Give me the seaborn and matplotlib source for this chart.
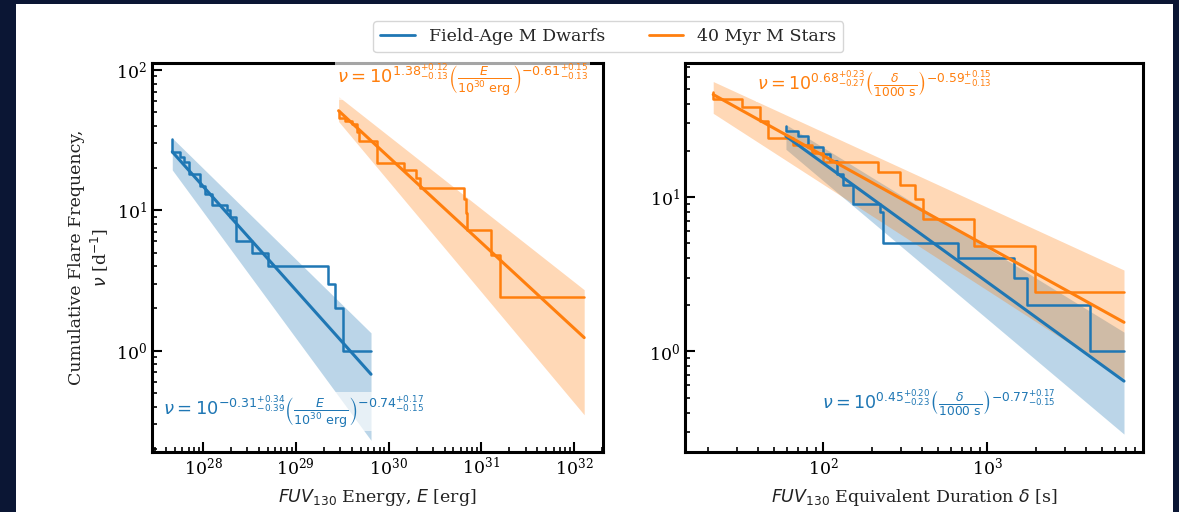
import seaborn as sns
import matplotlib.pyplot as plt
from matplotlib.lines import Line2D

# ---- datos ----
# panel izquierdo: energia FUV130 [erg]
e_field = [4.66e27, 4.66e27, 5.65e27, 6.28e27, 7.11e27, 9.29e27, 1.05e28, 1.24e28,
           1.83e28, 1.96e28, 2.27e28, 3.35e28, 5.07e28, 2.22e29, 2.67e29, 3.19e29, 6.46e29]
nu_e_field = [32, 26, 24, 22, 18, 15, 13, 11, 10, 9, 6, 5, 4, 3, 2, 1, 1]

e_young = [2.89e29, 2.89e29, 3.41e29, 4.03e29, 4.57e29, 4.79e29, 7.52e29, 1.46e30,
           1.95e30, 2.20e30, 6.47e30, 6.76e30, 7.03e30, 1.26e31, 1.57e31, 1.28e32]
nu_e_young = [50.6, 45.8, 43.4, 41.0, 36.2, 31.3, 21.7, 19.3,
              16.9, 14.5, 12.05, 9.64, 7.23, 4.82, 2.41, 2.41]

fit_e_field_x = [4.66e27, 6.46e29]
fit_e_field_y = [26.1, 0.68]
band_e_field_hi = [32.7, 1.34]
band_e_field_lo = [19.4, 0.23]

fit_e_young_x = [2.89e29, 1.28e32]
fit_e_young_y = [51.2, 1.24]
band_e_young_hi = [64.6, 2.72]
band_e_young_lo = [42.9, 0.35]

# panel derecho: duracion equivalente [s]
d_field = [59.4, 59.4, 70.6, 81.3, 100.5, 109.6, 121.1, 131.8, 153.1, 222.8,
           233.3, 668.3, 1452, 1746, 4246, 6839]
nu_d_field = [29, 27, 25, 21, 19, 17, 14, 12, 9, 8, 5, 4, 3, 2, 1, 1]

d_young = [21.4, 21.4, 31.9, 41.3, 46.3, 65.9, 85.3, 100.5, 217.3, 295.1,
           363.9, 409.3, 833.7, 1963, 6839]
nu_d_young = [48.2, 43.4, 38.6, 31.3, 24.1, 21.7, 19.3, 16.9, 14.5, 12.05,
              9.64, 7.23, 4.82, 2.41, 2.41]

fit_d_field_x = [59.4, 6839]
fit_d_field_y = [24.8, 0.64]
band_d_field_hi = [29.5, 1.33]
band_d_field_lo = [20.4, 0.29]

fit_d_young_x = [21.4, 6839]
fit_d_young_y = [46.2, 1.54]
band_d_young_hi = [56.1, 3.36]
band_d_young_lo = [34.9, 0.665]

etiquetas = ['Field-Age M Dwarfs', '40 Myr M Stars']
azul = '#1f77b4'
naranja = '#ff7f0e'

# ---- estilo ----
sns.set_theme(style='white')
plt.rcParams['font.family'] = ['DejaVu Serif']
plt.rcParams['mathtext.fontset'] = 'dejavusans'

fig = plt.figure(figsize=(11.79, 5.12), dpi=100)
fig.patch.set_facecolor('#0b1634')

# fondo blanco del panel
fondo = fig.add_axes([16 / 1179, 0, 1157 / 1179, 508 / 512], zorder=-10)
fondo.set_facecolor('white')
fondo.set_xticks([])
fondo.set_yticks([])
for s in fondo.spines.values():
    s.set_visible(False)

ax1 = fig.add_axes([152 / 1179, 60 / 512, 451 / 1179, 389 / 512])
ax2 = fig.add_axes([685 / 1179, 60 / 512, 458 / 1179, 389 / 512])


def panel(ax, pasos, ajustes, bandas):
    ax.set_xscale('log')
    ax.set_yscale('log')
    for xb, hi, lo, c in bandas:
        ax.fill_between(xb, lo, hi, color=c, alpha=0.3, linewidth=0)
    for x, y, c in pasos:
        sns.lineplot(x=x, y=y, drawstyle='steps-post', estimator=None, sort=False,
                     color=c, linewidth=1.8, ax=ax)
    for x, y, c in ajustes:
        sns.lineplot(x=x, y=y, estimator=None, sort=False, color=c, linewidth=2.2, ax=ax)
    ax.tick_params(which='both', direction='in', left=True, bottom=True,
                   top=False, right=False, labelsize=12.5, colors='black')
    ax.tick_params(which='major', length=7, width=1.5)
    ax.tick_params(which='minor', length=3.5, width=1.2)
    for s in ax.spines.values():
        s.set_linewidth(2.2)
        s.set_color('black')


panel(ax1,
      [(e_field, nu_e_field, azul), (e_young, nu_e_young, naranja)],
      [(fit_e_field_x, fit_e_field_y, azul), (fit_e_young_x, fit_e_young_y, naranja)],
      [(fit_e_field_x, band_e_field_hi, band_e_field_lo, azul),
       (fit_e_young_x, band_e_young_hi, band_e_young_lo, naranja)])
panel(ax2,
      [(d_field, nu_d_field, azul), (d_young, nu_d_young, naranja)],
      [(fit_d_field_x, fit_d_field_y, azul), (fit_d_young_x, fit_d_young_y, naranja)],
      [(fit_d_field_x, band_d_field_hi, band_d_field_lo, azul),
       (fit_d_young_x, band_d_young_hi, band_d_young_lo, naranja)])

ax1.set_xlim(10 ** 27.45, 10 ** 32.31)
ax1.set_ylim(0.19, 112)
ax2.set_xlim(14.4, 8930)
ax2.set_ylim(0.222, 74)

ax1.set_xlabel(r'$FUV_{130}$ Energy, $E$ [erg]', fontsize=12.5, color='#222222', labelpad=6)
ax2.set_xlabel(r'$FUV_{130}$ Equivalent Duration $\delta$ [s]', fontsize=12.5,
               color='#222222', labelpad=6)
ax1.set_ylabel('Cumulative Flare Frequency,\n' + r'$\nu$ [d$^{-1}$]', fontsize=12.5,
               color='#222222')

caja = dict(facecolor='white', alpha=0.65, edgecolor='none', pad=1)
ax1.text(0.41, 0.956, r'$\nu = 10^{1.38^{+0.12}_{-0.13}}\left(\frac{E}{10^{30}\ \mathrm{erg}}\right)^{-0.61^{+0.15}_{-0.13}}$',
         transform=ax1.transAxes, color=naranja, fontsize=13, ha='left', va='center', bbox=caja)
ax1.text(0.024, 0.103, r'$\nu = 10^{-0.31^{+0.34}_{-0.39}}\left(\frac{E}{10^{30}\ \mathrm{erg}}\right)^{-0.74^{+0.17}_{-0.15}}$',
         transform=ax1.transAxes, color=azul, fontsize=13, ha='left', va='center', bbox=caja)
ax2.text(0.157, 0.943, r'$\nu = 10^{0.68^{+0.23}_{-0.27}}\left(\frac{\delta}{1000\ \mathrm{s}}\right)^{-0.59^{+0.15}_{-0.13}}$',
         transform=ax2.transAxes, color=naranja, fontsize=12.6, ha='left', va='center', bbox=caja)
ax2.text(0.30, 0.124, r'$\nu = 10^{0.45^{+0.20}_{-0.23}}\left(\frac{\delta}{1000\ \mathrm{s}}\right)^{-0.77^{+0.17}_{-0.15}}$',
         transform=ax2.transAxes, color=azul, fontsize=12.6, ha='left', va='center', bbox=caja)

manijas = [Line2D([], [], color=azul, linewidth=2), Line2D([], [], color=naranja, linewidth=2)]
fig.legend(manijas, etiquetas, loc='center', bbox_to_anchor=(0.516, 0.928), ncol=2,
           fontsize=12.5, frameon=True, handlelength=2, columnspacing=2.5)

fig.savefig('out.png', dpi=100, facecolor=fig.get_facecolor())
